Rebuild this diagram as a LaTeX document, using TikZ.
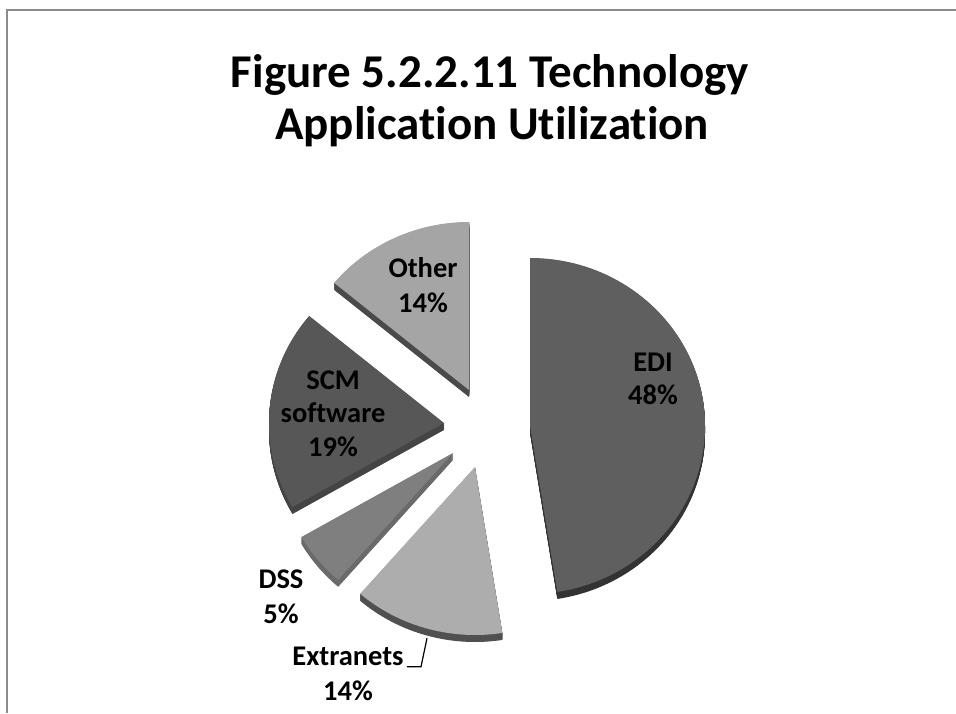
\documentclass[tikz,border=0pt]{standalone}
\usepackage{fontspec}
\setmainfont{Carlito}[Ligatures={NoCommon}]
\definecolor{framegray}{HTML}{8C8C8C}
\definecolor{ediTop}{HTML}{5F5F5F}
\definecolor{ediSide}{HTML}{333333}
\definecolor{extTop}{HTML}{ADADAD}
\definecolor{extSide}{HTML}{505050}
\definecolor{dssTop}{HTML}{7F7F7F}
\definecolor{dssSide}{HTML}{6A6A6A}
\definecolor{scmTop}{HTML}{575757}
\definecolor{scmSide}{HTML}{444444}
\definecolor{othTop}{HTML}{A5A5A5}
\definecolor{othSide}{HTML}{4A4A4A}
\tikzset{
  lbl/.style={font=\bfseries\fontsize{28.5}{34}\selectfont, anchor=base, inner sep=0pt, text=black},
  ttl/.style={font=\bfseries\fontsize{47}{52}\selectfont, anchor=base, inner sep=0pt, text=black},
  frame/.style={draw=framegray, line width=2pt},
  leader/.style={draw=black, line width=1.2pt},
}
% #1 apex coordinate, #2 start angle, #3 end angle, #4 top colour, #5 side colour
% pie radii of the tilted disc: 175pt across, 168pt up
\newcommand\drawwedge[5]{%
  \foreach \t in {7,6.5,...,0.5}{%
    \fill[#5] ([yshift=-\t pt]#1) -- ++(#2:175pt and 168pt)
      arc[start angle=#2, end angle=#3, x radius=175pt, y radius=168pt] -- cycle;
  }
  \fill[#4] (#1) -- ++(#2:175pt and 168pt)
    arc[start angle=#2, end angle=#3, x radius=175pt, y radius=168pt] -- cycle;
}
\begin{document}
\begin{tikzpicture}[x=1pt, y=1pt]
  \useasboundingbox (0,0) rectangle (956,713);
  \fill[white] (0,0) rectangle (956,713);

  % chart frame (top and left edges)
  \draw[frame] (7,0) -- (7,703) -- (956,703);

  % title
  \node[ttl] (title1) at (490,625) {Figure 5.2.2.11 Technology};
  \node[ttl] (title2) at (492,573) {Application Utilization};

  % exploded slices: apex of each wedge
  \coordinate (othapex) at (469,323);
  \coordinate (scmapex) at (444,290);
  \coordinate (ediapex) at (530,287);
  \coordinate (dssapex) at (453,260);
  \coordinate (extapex) at (475,246);

  \drawwedge{othapex}{140.4}{90}{othTop}{othSide}
  \drawwedge{scmapex}{-150}{-219.6}{scmTop}{scmSide}
  \drawwedge{ediapex}{90}{-81}{ediTop}{ediSide}
  \drawwedge{dssapex}{-131}{-150}{dssTop}{dssSide}
  \drawwedge{extapex}{-81}{-131}{extTop}{extSide}

  % data labels
  \node[lbl] (othname) at (423,435) {Other};
  \node[lbl] (othpct)  at (423,400) {14\%};
  \node[lbl] (ediname) at (653,341) {EDI};
  \node[lbl] (edipct)  at (653,308) {48\%};
  \node[lbl] (scmname) at (333,323) {SCM};
  \node[lbl] (scmsoft) at (333,290) {software};
  \node[lbl] (scmpct)  at (333,256) {19\%};
  \node[lbl] (dssname) at (281,125) {DSS};
  \node[lbl] (dsspct)  at (281,90)  {5\%};
  \node[lbl] (extname) at (348,48)  {Extranets};
  \node[lbl] (extpct)  at (348,13)  {14\%};

  % leader line from the Extranets label to its slice
  \coordinate (exttip) at (427,74.7);
  \draw[leader] ([xshift=3pt,yshift=-1.7pt]extname.base east) -- (421,46.3) -- (exttip);
\end{tikzpicture}
\end{document}
